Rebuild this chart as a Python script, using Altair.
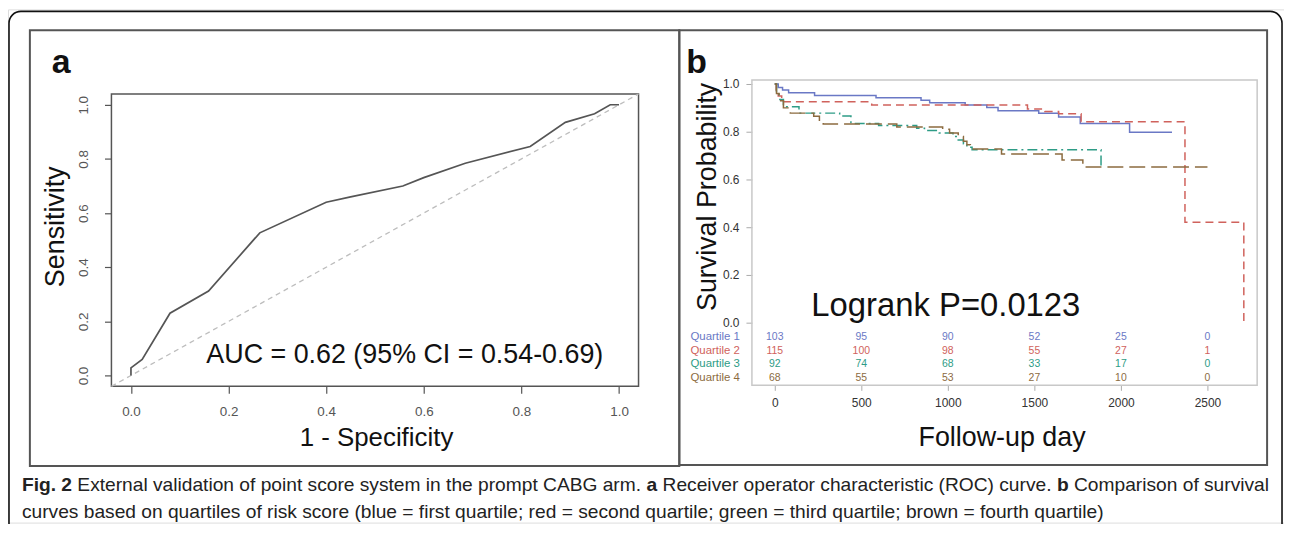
import altair as alt
import pandas as pd

# ---------------- data ----------------
roc_fpr = [0.0, 0.0, 0.023, 0.080, 0.159, 0.264, 0.400, 0.450, 0.557, 0.600, 0.685, 0.818, 0.890, 0.950, 0.982, 1.0]
roc_tpr = [0.0, 0.028, 0.059, 0.230, 0.312, 0.527, 0.640, 0.660, 0.700, 0.731, 0.784, 0.846, 0.935, 0.967, 1.0, 1.0]

quartiles = ["Quartile 1", "Quartile 2", "Quartile 3", "Quartile 4"]

q1_day = [0, 20, 45, 80, 230, 585, 845, 895, 1100, 1225, 1290, 1525, 1640, 1765, 2050, 2295]
q1_surv = [1.0, 0.985, 0.975, 0.963, 0.952, 0.942, 0.932, 0.921, 0.912, 0.902, 0.888, 0.877, 0.862, 0.835, 0.798, 0.798]

q2_day = [0, 8, 20, 40, 560, 1460, 1560, 1640, 1770, 2370, 2710]
q2_surv = [1.0, 0.975, 0.95, 0.926, 0.912, 0.895, 0.885, 0.875, 0.842, 0.421, 0.0]

q3_day = [0, 10, 25, 50, 140, 375, 440, 600, 820, 865, 950, 1030, 1060, 1090, 1110, 1140, 1885]
q3_surv = [1.0, 0.96, 0.935, 0.905, 0.878, 0.866, 0.835, 0.826, 0.815, 0.805, 0.795, 0.78, 0.765, 0.75, 0.735, 0.725, 0.655]

q4_day = [0, 10, 25, 50, 90, 225, 258, 280, 705, 970, 1010, 1060, 1090, 1110, 1130, 1310, 1660, 1780, 2500]
q4_surv = [1.0, 0.96, 0.93, 0.90, 0.878, 0.865, 0.845, 0.832, 0.82, 0.81, 0.795, 0.78, 0.76, 0.745, 0.728, 0.707, 0.682, 0.652, 0.652]

risk_times = [0, 500, 1000, 1500, 2000, 2500]
risk_q1 = [103, 95, 90, 52, 25, 0]
risk_q2 = [115, 100, 98, 55, 27, 1]
risk_q3 = [92, 74, 68, 33, 17, 0]
risk_q4 = [68, 55, 53, 27, 10, 0]

auc_text = "AUC = 0.62 (95% CI = 0.54-0.69)"
logrank_text = "Logrank P=0.0123"

cap1 = [("Fig. 2", True),
        (" External validation of point score system in the prompt CABG arm. ", False),
        ("a", True),
        (" Receiver operator characteristic (ROC) curve. ", False),
        ("b", True),
        (" Comparison of survival", False)]
cap2 = [("curves based on quartiles of risk score (blue = first quartile; red = second quartile; "
         "green = third quartile; brown = fourth quartile)", False)]

# ---------------- styles / layout ----------------
FONT = "Liberation Sans"
W, H = 1283, 516
q_colors = ["#6a78c5", "#d0625c", "#2e9c86", "#8c6b3f"]
q_dashes = [[1, 0], [8, 5], [10, 4, 2, 4], [16, 6]]

# Arial / Liberation Sans advance widths (1/1000 em)
REG = {' ': 278, '(': 333, ')': 333, '.': 278, ';': 278, '=': 584, '-': 333, '%': 889, ',': 278,
       'a': 556, 'b': 556, 'c': 500, 'd': 556, 'e': 556, 'f': 278, 'g': 556, 'h': 556, 'i': 222,
       'j': 222, 'k': 500, 'l': 222, 'm': 833, 'n': 556, 'o': 556, 'p': 556, 'q': 556, 'r': 333,
       's': 500, 't': 278, 'u': 556, 'v': 500, 'w': 722, 'x': 500, 'y': 500, 'z': 500,
       'A': 667, 'B': 667, 'C': 722, 'D': 722, 'E': 667, 'F': 611, 'G': 778, 'H': 722, 'I': 278,
       'O': 778, 'P': 667, 'R': 722, 'S': 667, 'T': 611}
BOLD = {' ': 278, '.': 278, 'F': 611, 'i': 278, 'g': 611, '2': 556, 'a': 556, 'b': 611}


def text_width(s, bold, size):
    table = BOLD if bold else REG
    return sum(table.get(c, 556) for c in s) * size / 1000.0


CAP_X0, CAP_X1 = 14, 1268
cap_em = sum(text_width(s, b, 1000) for s, b in cap1) / 1000.0
CAP_SIZE = (CAP_X1 - CAP_X0) / cap_em

one = pd.DataFrame({"k": [0]})


def box(x, x2, y, y2, color, width, radius=0):
    return alt.Chart(one).mark_rect(fill="white", fillOpacity=0, stroke=color, strokeWidth=width,
                                    cornerRadius=radius).encode(
        x=alt.value(x), x2=alt.value(x2), y=alt.value(y), y2=alt.value(y2))


def label(x, y, txt, size, weight="normal", align="left", color="#111"):
    return alt.Chart(one).mark_text(font=FONT, fontSize=size, fontWeight=weight, align=align,
                                    baseline="alphabetic", color=color).encode(
        x=alt.value(x), y=alt.value(y), text=alt.value(txt))


def caption_layers(segments, y):
    layers = []
    cur = CAP_X0
    for s, b in segments:
        lead = len(s) - len(s.lstrip(" "))
        cur += text_width(" " * lead, b, CAP_SIZE)
        body = s.strip(" ")
        layers.append(label(cur, y, body, CAP_SIZE, "bold" if b else "normal", "left", "#222"))
        cur += text_width(body, b, CAP_SIZE)
        trail = len(s) - len(s.rstrip(" "))
        cur += text_width(" " * trail, b, CAP_SIZE)
    return layers


# ---------------- panel a : ROC ----------------
a_dom = [-0.04, 1.04]
sxa = alt.Scale(domain=a_dom, range=[104, 634], nice=False, zero=False)
sya = alt.Scale(domain=a_dom, range=[379, 85], nice=False, zero=False)
ticks01 = [0.0, 0.2, 0.4, 0.6, 0.8, 1.0]

ax_a_x = alt.Axis(orient="bottom", offset=379 - H, values=ticks01, format=".1f", domain=False,
                  grid=False, tickColor="#555", tickSize=7, tickWidth=1.2, labelColor="#555",
                  labelFont=FONT, labelFontSize=13.5, labelPadding=11, labelFlush=False,
                  labelOverlap=False, title="1 - Specificity", titleFont=FONT, titleFontSize=26,
                  titleFontWeight="normal", titleColor="#111", titleX=370, titleY=59,
                  titleAlign="center", titleBaseline="alphabetic")
ax_a_y = alt.Axis(orient="left", offset=-104, values=ticks01, format=".1f", domain=False,
                  grid=False, tickColor="#555", tickSize=7, tickWidth=1.2, labelColor="#555",
                  labelFont=FONT, labelFontSize=13.5, labelAngle=270, labelAlign="center",
                  labelBaseline="alphabetic", labelPadding=17, labelFlush=False,
                  labelOverlap=False, title="Sensitivity", titleFont=FONT, titleFontSize=27,
                  titleFontWeight="normal", titleColor="#111", titleAngle=270, titleX=-48,
                  titleY=218, titleAlign="center", titleBaseline="alphabetic")

roc_df = pd.DataFrame({"fpr": roc_fpr, "tpr": roc_tpr, "i": list(range(len(roc_fpr)))})
diag_df = pd.DataFrame({"fpr": a_dom, "tpr": a_dom, "i": [0, 1]})

diag = alt.Chart(diag_df).mark_line(color="#bdbdbd", strokeDash=[5, 4], strokeWidth=1.3).encode(
    x=alt.X("fpr:Q", scale=sxa, axis=ax_a_x), y=alt.Y("tpr:Q", scale=sya, axis=ax_a_y),
    order="i:Q")
roc = alt.Chart(roc_df).mark_line(color="#555555", strokeWidth=1.7).encode(
    x=alt.X("fpr:Q", scale=sxa, axis=ax_a_x), y=alt.Y("tpr:Q", scale=sya, axis=ax_a_y),
    order="i:Q")
panelA = alt.layer(diag, roc)

# ---------------- panel b : Kaplan-Meier ----------------
sxb = alt.Scale(domain=[-132, 2787], range=[748, 1256], nice=False, zero=False)
syb = alt.Scale(domain=[-0.2625, 1.0167], range=[378, 71], nice=False, zero=False)
col = alt.Scale(domain=quartiles, range=q_colors)
dsh = alt.Scale(domain=quartiles, range=q_dashes)
ROW_STEP = 0.0583

ax_b_x = alt.Axis(orient="bottom", offset=378 - H, values=risk_times, format="d", domain=False,
                  grid=False, tickColor="#aaa", tickSize=5, labelColor="#333", labelFont=FONT,
                  labelFontSize=12, labelPadding=7, labelFlush=False, labelOverlap=False,
                  title="Follow-up day", titleFont=FONT, titleFontSize=27, titleFontWeight="normal",
                  titleColor="#111", titleX=999, titleY=60, titleAlign="center",
                  titleBaseline="alphabetic")
ax_b_y = alt.Axis(orient="left", offset=-748, values=ticks01, format=".1f", domain=False,
                  grid=False, tickColor="#aaa", tickSize=6, labelColor="#333", labelFont=FONT,
                  labelFontSize=12, labelPadding=7, labelAlign="right", labelBaseline="middle",
                  labelFlush=False, labelOverlap=False, title="Survival Probability",
                  titleFont=FONT, titleFontSize=27, titleFontWeight="normal", titleColor="#111",
                  titleAngle=270, titleX=-37, titleY=188, titleAlign="center",
                  titleBaseline="alphabetic")

km_rows = []
for q, days, surv in zip(quartiles, [q1_day, q2_day, q3_day, q4_day],
                         [q1_surv, q2_surv, q3_surv, q4_surv]):
    for i, (d, s) in enumerate(zip(days, surv)):
        km_rows.append({"q": q, "day": d, "surv": s, "i": i})
km_df = pd.DataFrame(km_rows)

risk_rows, qlab_rows = [], []
for r, (q, vals) in enumerate(zip(quartiles, [risk_q1, risk_q2, risk_q3, risk_q4])):
    ypos = -(r + 1) * ROW_STEP
    qlab_rows.append({"q": q, "surv": ypos})
    for t, n in zip(risk_times, vals):
        risk_rows.append({"q": q, "day": t, "surv": ypos, "n": str(n)})
risk_df = pd.DataFrame(risk_rows)
qlab_df = pd.DataFrame(qlab_rows)

km = alt.Chart(km_df).mark_line(interpolate="step-after", strokeWidth=1.5).encode(
    x=alt.X("day:Q", scale=sxb, axis=ax_b_x),
    y=alt.Y("surv:Q", scale=syb, axis=ax_b_y),
    color=alt.Color("q:N", scale=col, legend=None),
    strokeDash=alt.StrokeDash("q:N", scale=dsh, legend=None),
    order="i:Q")
risk = alt.Chart(risk_df).mark_text(font=FONT, fontSize=10.5, align="center", baseline="middle").encode(
    x=alt.X("day:Q", scale=sxb, axis=ax_b_x),
    y=alt.Y("surv:Q", scale=syb, axis=ax_b_y),
    text="n:N",
    color=alt.Color("q:N", scale=col, legend=None))
qlab = alt.Chart(qlab_df).mark_text(font=FONT, fontSize=11.5, align="right", baseline="middle").encode(
    x=alt.value(736),
    y=alt.Y("surv:Q", scale=syb, axis=ax_b_y),
    text="q:N",
    color=alt.Color("q:N", scale=col, legend=None))
panelB = alt.layer(km, risk, qlab)

# ---------------- frames, labels, caption ----------------
frames = [
    box(1, 1281, 2, 700, "#111", 1.6, radius=12),
    box(22, 675, 21, 459, "#555", 2),
    box(675, 1266, 21, 458, "#555", 2),
    box(104, 634, 85, 379, "#555", 1.5),
    box(748, 1256, 71, 378, "#c8c8c8", 1.5),
]
texts = [
    label(44, 64, "a", 34, "bold"),
    label(682, 64, "b", 34, "bold"),
    label(399, 356, auc_text, 27, align="center"),
    label(943, 308, logrank_text, 33, align="center"),
]
texts += caption_layers(cap1, 484)
texts += caption_layers(cap2, 511)

chart = alt.layer(*frames, panelA, panelB, *texts).resolve_scale(
    x="independent", y="independent", color="independent", strokeDash="independent"
).properties(
    width=W, height=H, padding=0, autosize=alt.AutoSizeParams(type="none")
).configure_view(stroke="transparent").configure(background="white")

chart.save("out.html", embed_options={"renderer": "svg", "actions": False})
